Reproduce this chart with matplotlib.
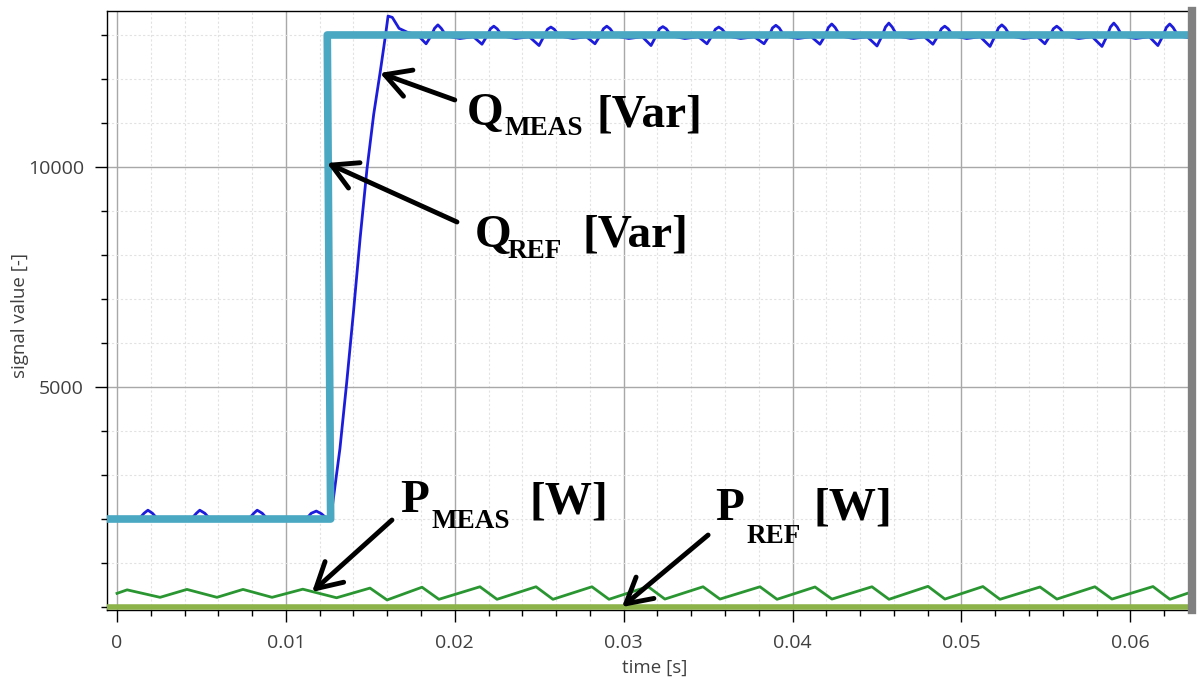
import matplotlib.pyplot as plt
from matplotlib.ticker import MultipleLocator, FixedLocator, FuncFormatter

plt.rcParams['font.family'] = ['Open Sans', 'DejaVu Sans']

# reactive power reference [Var]
q_ref_t = [-0.0006, 0.01265, 0.01245, 0.0637]
q_ref_v = [2000, 2000, 13000, 13000]

# reactive power measured [Var]
q_meas_t = [0.0, 0.0013, 0.0016, 0.00183, 0.0021, 0.0024,
            0.0044, 0.0047, 0.0049, 0.0052, 0.0055,
            0.0078, 0.0081, 0.0083, 0.0086, 0.0089,
            0.0112, 0.0115, 0.0118, 0.0121, 0.0124, 0.01268,
            0.0132, 0.0136, 0.0140, 0.0144, 0.0148, 0.0152, 0.0156, 0.0159, 0.01605, 0.0163,
            0.0167, 0.0172, 0.0178,
            0.01830, 0.01860, 0.01880, 0.01900, 0.01920, 0.01950, 0.02030, 0.02110,
            0.02161, 0.02191, 0.02211, 0.02231, 0.02251, 0.02281, 0.02361, 0.02441,
            0.02499, 0.02529, 0.02549, 0.02569, 0.02589, 0.02619, 0.02699, 0.02779,
            0.02830, 0.02860, 0.02880, 0.02900, 0.02920, 0.02950, 0.03030, 0.03110,
            0.03162, 0.03192, 0.03212, 0.03232, 0.03252, 0.03282, 0.03362, 0.03442,
            0.03493, 0.03523, 0.03543, 0.03563, 0.03583, 0.03613, 0.03693, 0.03773,
            0.03831, 0.03861, 0.03881, 0.03901, 0.03921, 0.03951, 0.04031, 0.04111,
            0.04162, 0.04192, 0.04212, 0.04232, 0.04252, 0.04282, 0.04362, 0.04442,
            0.04500, 0.04530, 0.04550, 0.04570, 0.04590, 0.04620, 0.04700, 0.04780,
            0.04831, 0.04861, 0.04881, 0.04901, 0.04921, 0.04951, 0.05031, 0.05111,
            0.05169, 0.05199, 0.05219, 0.05239, 0.05259, 0.05289, 0.05369, 0.05449,
            0.05494, 0.05524, 0.05544, 0.05564, 0.05584, 0.05614, 0.05694, 0.05774,
            0.05832, 0.05862, 0.05882, 0.05902, 0.05922, 0.05952, 0.06032, 0.06112,
            0.06163, 0.06193, 0.06213, 0.06233, 0.06253, 0.06283, 0.06360]
q_meas_v = [2000, 2000, 2130, 2200, 2130, 2000,
            2000, 2130, 2200, 2130, 2000,
            2000, 2130, 2200, 2130, 2000,
            2000, 2130, 2180, 2120, 2020, 2080,
            3600, 5100, 6700, 8400, 9950, 11200, 12200, 13000, 13430, 13400,
            13150, 13060, 13000,
            12800, 12980, 13150, 13230, 13150, 12980, 12920, 12960,
            12790, 12980, 13140, 13200, 13140, 12980, 12920, 12960,
            12760, 12980, 13130, 13180, 13130, 12980, 12920, 12960,
            12800, 12980, 13140, 13200, 13140, 12980, 12920, 12960,
            12760, 12980, 13140, 13190, 13140, 12980, 12920, 12960,
            12800, 12980, 13130, 13180, 13130, 12980, 12920, 12960,
            12800, 12980, 13160, 13220, 13160, 12980, 12920, 12960,
            12790, 12980, 13170, 13250, 13170, 12980, 12920, 12960,
            12750, 12980, 13180, 13270, 13180, 12980, 12920, 12960,
            12790, 12980, 13140, 13200, 13140, 12980, 12920, 12960,
            12740, 12980, 13160, 13230, 13160, 12980, 12920, 12960,
            12800, 12980, 13140, 13200, 13140, 12980, 12920, 12960,
            12740, 12980, 13180, 13270, 13180, 12980, 12920, 12960,
            12760, 12980, 13170, 13250, 13170, 12980, 12930]

# active power reference [W]
p_ref_t = [-0.0006, 0.0637]
p_ref_v = [0, 0]

# active power measured [W]
p_meas_t = [0.0, 0.0006, 0.00255, 0.00414, 0.00592, 0.00746, 0.00918, 0.0110, 0.0130,
            0.01498, 0.01599, 0.01806, 0.01906, 0.02149, 0.02250, 0.02481, 0.02581,
            0.02812, 0.02913, 0.03144, 0.03244, 0.03470, 0.03570, 0.03807, 0.03908,
            0.04133, 0.04233, 0.04470, 0.04571, 0.04802, 0.04902, 0.05127, 0.05228,
            0.05465, 0.05565, 0.05790, 0.05891, 0.06134, 0.06234, 0.06360]
p_meas_v = [310, 390, 220, 400, 220, 400, 220, 405, 210,
            430, 160, 450, 175, 460, 175, 460, 175,
            460, 175, 465, 180, 460, 180, 460, 175,
            455, 180, 460, 175, 470, 180, 465, 175,
            455, 180, 460, 180, 465, 175, 340]

fig = plt.figure(figsize=(11.99, 6.79), dpi=100)
ax = fig.add_axes([107 / 1199, 1 - 610 / 679, (1192 - 107) / 1199, (610 - 11) / 679])

ax.plot(q_meas_t, q_meas_v, color='#1c1cdc', lw=2, zorder=3)
ax.plot(q_ref_t, q_ref_v, color='#4aa8c2', lw=5.5, zorder=4)
ax.plot(p_meas_t, p_meas_v, color='#2a9632', lw=2, zorder=3)
ax.plot(p_ref_t, p_ref_v, color='#8cb34a', lw=4, zorder=4)

ax.set_xlim(-0.000592, 0.06365)
ax.set_ylim(-68, 13545)

ax.xaxis.set_major_locator(MultipleLocator(0.01))
ax.xaxis.set_minor_locator(MultipleLocator(0.002))
ax.yaxis.set_major_locator(FixedLocator([5000, 10000]))
ax.yaxis.set_minor_locator(MultipleLocator(1000))
ax.xaxis.set_major_formatter(FuncFormatter(lambda x, p: '0' if abs(x) < 1e-9 else f'{x:.2f}'))

ax.set_axisbelow(True)
ax.grid(which='major', color='#a8a8a8', lw=1)
ax.grid(which='minor', color='#e2e2e2', lw=0.8, ls=(0, (2, 2)))

ax.tick_params(which='major', length=8.5, width=1, labelsize=14, labelcolor='#404040')
ax.tick_params(which='minor', length=4.5, width=1)
ax.tick_params(axis='x', which='major', pad=9)
ax.tick_params(axis='y', which='major', pad=8)

for side in ['top', 'left', 'bottom']:
    ax.spines[side].set_color('black')
    ax.spines[side].set_linewidth(1)
ax.spines['right'].set_color('#808080')
ax.spines['right'].set_linewidth(6)
ax.spines['right'].set_zorder(5)

ax.text(-0.08, 0.491, 'signal value [-]', transform=ax.transAxes, rotation=90,
        ha='center', va='center', fontsize=13.5, color='#404040')
ax.text(0.505, -0.097, 'time [s]', transform=ax.transAxes,
        ha='center', va='center', fontsize=13.5, color='#404040')

big = 34
small = 19.5
labels = [
    ('Q', 0.02072, 10955, big), ('MEAS', 0.02297, 10727, small), ('[Var]', 0.02842, 10909, big),
    ('Q', 0.02120, 8182, big), ('REF', 0.02315, 7932, small), ('[Var]', 0.02759, 8182, big),
    ('P', 0.01676, 2159, big), ('MEAS', 0.01865, 1795, small), ('[W]', 0.02445, 2136, big),
    ('P', 0.03541, 1977, big), ('REF', 0.03730, 1455, small), ('[W]', 0.04121, 2000, big),
]
for s, x, y, size in labels:
    ax.text(x, y, s, fontsize=size, fontweight='bold', family='Liberation Serif',
            ha='left', va='baseline', color='black', zorder=6)

arrows = [
    ((0.01557, 12136), (0.0200, 11523)),
    ((0.01243, 10091), (0.02013, 8750)),
    ((0.01155, 341), (0.01628, 1977)),
    ((0.0299, 0), (0.0350, 1636)),
]
for tip, tail in arrows:
    ax.annotate('', xy=tip, xytext=tail, zorder=6,
                arrowprops=dict(arrowstyle='->,head_length=0.9,head_width=0.5', lw=3.5,
                                color='black', shrinkA=0, shrinkB=0, mutation_scale=20))

fig.savefig('out.png', dpi=100)
